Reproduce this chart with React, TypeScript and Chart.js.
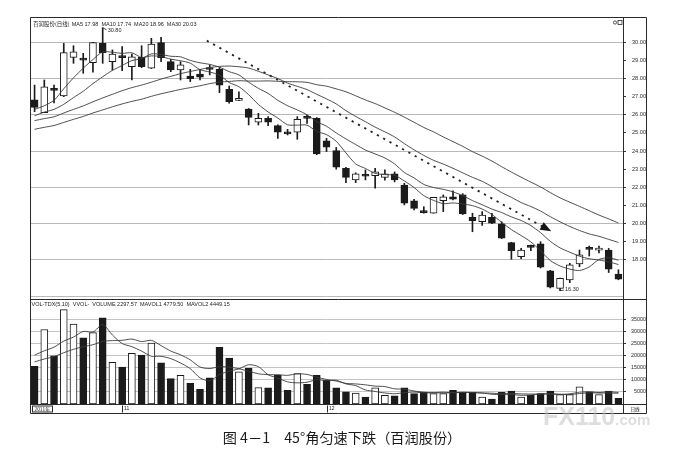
import React, { useEffect, useRef } from "react";
import { Chart, registerables } from "chart.js";

Chart.register(...registerables);

const SANS = "'Liberation Sans', 'DejaVu Sans', Arial, sans-serif";
const CJK = "'Noto Sans CJK SC', 'Noto Sans', sans-serif";

// ---- daily candles ----
const OPEN = [26.82, 26.12, 27.4, 27.04, 29.17, 29.13, 28.87, 29.94, 28.93, 29.2, 28.65, 29.17, 28.57, 29.98, 28.93, 28.47, 28.14, 28.25, 28.55, 28.51, 27.41, 26.8, 26.32, 25.59, 25.81, 25.4, 24.98, 25.04, 25.84, 25.81, 24.57, 24.02, 23.05, 22.41, 22.64, 22.64, 22.55, 22.74, 22.13, 21.26, 20.63, 20.57, 21.26, 21.48, 21.58, 20.35, 20.1, 20.35, 19.98, 18.95, 18.17, 18.7, 18.88, 17.4, 16.43, 16.89, 17.77, 18.6, 18.54, 18.54, 17.22];
const HIGH = [27.64, 27.92, 27.64, 29.94, 29.81, 29.39, 30.0, 30.8, 29.58, 29.76, 29.35, 29.81, 30.22, 30.28, 29.06, 28.93, 28.51, 28.51, 28.75, 28.6, 27.59, 27.27, 26.35, 26.08, 25.9, 25.45, 25.2, 25.9, 25.99, 25.85, 24.7, 24.2, 23.1, 22.8, 22.96, 23.05, 22.96, 22.85, 22.22, 21.34, 20.93, 21.45, 21.58, 21.81, 21.65, 20.57, 20.66, 20.57, 20.1, 18.97, 18.63, 18.82, 19.0, 17.42, 17.0, 17.81, 18.54, 18.76, 18.76, 18.63, 17.45];
const LOW = [26.17, 26.12, 26.65, 27.0, 28.84, 28.29, 28.35, 28.84, 28.47, 28.43, 27.92, 28.6, 28.55, 28.93, 28.38, 27.92, 27.83, 27.92, 28.2, 27.22, 26.64, 26.78, 25.44, 25.44, 25.4, 24.7, 24.89, 24.65, 25.53, 23.8, 23.97, 23.0, 22.26, 22.26, 22.41, 21.95, 22.4, 22.3, 21.03, 20.75, 20.57, 20.57, 20.66, 21.3, 20.5, 19.55, 19.9, 20.0, 19.17, 18.03, 18.07, 18.5, 17.55, 16.45, 16.3, 16.74, 17.62, 18.21, 18.38, 17.3, 16.9];
const CLOSE = [26.41, 27.55, 27.35, 29.43, 29.48, 29.02, 29.98, 29.43, 29.35, 29.15, 29.2, 28.65, 29.9, 29.15, 28.47, 28.75, 27.99, 28.07, 28.5, 27.64, 26.72, 26.82, 25.86, 25.81, 25.59, 25.04, 24.95, 25.75, 25.8, 23.84, 24.21, 23.11, 22.55, 22.74, 22.61, 22.86, 22.74, 22.41, 21.12, 20.84, 20.6, 21.45, 21.48, 21.34, 20.53, 20.16, 20.47, 20.02, 19.19, 18.5, 18.54, 18.69, 17.59, 16.49, 16.98, 17.72, 18.27, 18.58, 18.56, 17.48, 16.94];

// ---- moving-average lines ----
const MA5 = [26.3, 26.5, 26.8, 27.44, 28.04, 28.57, 29.05, 29.47, 29.45, 29.39, 29.42, 29.16, 29.25, 29.21, 29.07, 28.98, 28.85, 28.49, 28.36, 28.19, 27.78, 27.55, 27.11, 26.57, 26.16, 25.82, 25.45, 25.43, 25.43, 25.08, 24.91, 24.54, 23.9, 23.29, 23.04, 22.77, 22.7, 22.67, 22.35, 21.99, 21.54, 21.28, 21.1, 21.14, 21.08, 20.99, 20.8, 20.5, 20.07, 19.67, 19.34, 18.99, 18.5, 17.96, 17.66, 17.49, 17.41, 17.61, 18.02, 18.12, 17.98];
const MA10 = [25.95, 26.15, 26.3, 26.58, 26.95, 27.3, 27.72, 28.1, 28.45, 28.72, 28.99, 29.1, 29.36, 29.33, 29.23, 29.2, 29.0, 28.87, 28.78, 28.63, 28.38, 28.2, 27.8, 27.46, 27.18, 26.8, 26.5, 26.27, 26.0, 25.62, 25.37, 25.0, 24.67, 24.36, 24.06, 23.84, 23.62, 23.29, 22.82, 22.52, 22.16, 21.99, 21.89, 21.75, 21.54, 21.27, 21.04, 20.8, 20.61, 20.37, 20.17, 19.89, 19.5, 19.02, 18.66, 18.42, 18.2, 18.06, 17.99, 17.89, 17.74];
const MA20 = [25.68, 25.79, 25.89, 26.1, 26.3, 26.49, 26.72, 26.93, 27.13, 27.33, 27.5, 27.64, 27.8, 27.97, 28.12, 28.27, 28.39, 28.5, 28.61, 28.67, 28.69, 28.65, 28.58, 28.4, 28.2, 28.0, 27.75, 27.57, 27.39, 27.13, 26.88, 26.6, 26.23, 25.91, 25.62, 25.32, 25.06, 24.78, 24.41, 24.07, 23.76, 23.49, 23.28, 23.05, 22.8, 22.55, 22.33, 22.04, 21.71, 21.45, 21.16, 20.94, 20.69, 20.38, 20.1, 19.84, 19.62, 19.43, 19.3, 19.13, 18.96];
const MA30 = [25.2, 25.31, 25.41, 25.58, 25.75, 25.91, 26.1, 26.27, 26.44, 26.6, 26.74, 26.86, 27.02, 27.16, 27.28, 27.4, 27.5, 27.6, 27.72, 27.8, 27.84, 27.88, 27.86, 27.86, 27.87, 27.85, 27.83, 27.82, 27.79, 27.66, 27.58, 27.43, 27.27, 27.05, 26.82, 26.62, 26.38, 26.14, 25.87, 25.59, 25.3, 25.06, 24.78, 24.52, 24.26, 23.97, 23.72, 23.45, 23.14, 22.84, 22.56, 22.29, 22.02, 21.71, 21.42, 21.18, 20.95, 20.71, 20.47, 20.26, 20.03];

// ---- volume ----
const VOLUME = [15600, 30800, 19900, 39000, 33000, 27300, 29500, 35600, 17200, 15300, 20900, 20200, 25200, 17000, 10500, 11900, 8500, 6100, 10800, 23400, 19000, 13300, 14700, 6800, 6700, 11900, 5700, 12600, 8100, 11900, 9800, 6700, 5000, 4500, 2900, 6700, 3600, 3400, 6700, 4300, 4800, 4300, 4300, 5700, 4800, 4800, 2900, 2000, 4800, 5300, 2900, 3600, 4300, 5300, 3900, 3900, 7100, 5000, 3900, 5300, 2300];
const MAVOL5 = [20200, 22000, 23500, 26000, 27660, 30000, 29740, 32880, 28520, 24980, 23700, 21840, 19760, 19720, 18760, 16960, 14620, 10800, 9560, 12140, 13560, 14520, 16240, 15440, 12100, 10680, 9160, 8740, 9000, 10040, 9620, 9820, 8300, 7600, 5800, 5180, 4560, 4240, 4660, 4940, 4560, 4700, 4880, 4680, 4780, 4780, 4500, 4040, 3860, 3960, 3580, 3720, 4180, 4280, 4000, 4200, 4900, 5040, 4760, 5040, 4780];
const MAVOL10 = [17400, 18600, 19600, 21200, 22600, 23700, 24500, 25900, 26200, 26320, 26850, 25790, 26320, 24120, 21870, 20330, 18230, 15280, 14640, 15450, 15260, 14570, 13520, 12500, 12120, 12120, 11840, 12490, 12220, 11070, 10150, 9490, 8520, 8300, 7920, 7400, 7190, 6270, 6130, 5370, 4870, 4630, 4560, 4670, 4860, 4670, 4600, 4460, 4270, 4370, 4180, 4110, 4110, 4070, 3980, 3890, 4310, 4610, 4520, 4520, 4450];

// ---- hand-drawn 45° trend arrow (data units: candle index, price) ----
const TREND_X = [17.7, 52.2];
const TREND_Y = [30.09, 19.84];

// ---- axes / labels ----
const PRICE_LEVELS = [16, 17, 18, 19, 20, 21, 22, 23, 24, 25, 26, 27, 28, 29, 30];
const VOL_LEVELS = [5000, 10000, 15000, 20000, 25000, 30000, 35000];
const MONTH_TICKS = [9, 30];
const MONTH_LABELS = ["11", "12"];
const YEAR_LABEL = "2011年";
const STOCK_TITLE = "百润股份(日线)";
const MA_NAMES = ["MA5", "MA10", "MA20", "MA30"];
const MA_LAST = ["17.98", "17.74", "18.96", "20.03"];
const VOL_LEGEND = "VOL-TDX(5,10)  VVOL-  VOLUME 2297.57  MAVOL1 4779.50  MAVOL2 4449.15";
const CAPTION = "图 4－1　45°角匀速下跌（百润股份）";

export default function App() {
  const ref = useRef<HTMLCanvasElement | null>(null);

  useEffect(() => {
    const canvas = ref.current;
    if (!canvas) return;
    const ink = "#1b1b1b";
    const lineInk = "#3a3a3a";
    const up = CLOSE.map((c, i) => c >= OPEN[i]);
    const fill = up.map((u) => (u ? "#ffffff" : ink));
    const pts = (arr: number[]) => arr.map((v, i) => ({ x: i, y: v }));
    const transparent = "rgba(0,0,0,0)";

    const overlay = {
      id: "overlay",
      afterDraw(chart: any) {
        const { ctx, chartArea, scales } = chart;
        const xs = scales.x;
        const ys = scales.y;
        const yv = scales.yv;
        const L = Math.round(chartArea.left) + 0.5;
        const R = Math.round(chartArea.right) + 0.5;
        const T = Math.round(chartArea.top) + 0.5;
        const B = Math.round(chartArea.bottom) + 0.5;
        const OR = R + 23;
        const SB = B + 9;
        const D = Math.round(yv.top) + 0.5;
        ctx.save();
        ctx.strokeStyle = "#2a2a2a";
        ctx.lineWidth = 1;
        ctx.beginPath();
        ctx.rect(L, T, OR - L, SB - T);
        ctx.moveTo(L, D);
        ctx.lineTo(OR, D);
        ctx.moveTo(L, B);
        ctx.lineTo(OR, B);
        ctx.moveTo(R, T);
        ctx.lineTo(R, SB);
        ctx.stroke();

        // arrow head at the end of the trend line
        const ax0 = xs.getPixelForValue(TREND_X[0]);
        const ay0 = ys.getPixelForValue(TREND_Y[0]);
        const ax1 = xs.getPixelForValue(TREND_X[1]);
        const ay1 = ys.getPixelForValue(TREND_Y[1]);
        const len = Math.hypot(ax1 - ax0, ay1 - ay0);
        const ux = (ax1 - ax0) / len;
        const uy = (ay1 - ay0) / len;
        ctx.fillStyle = "#151515";
        ctx.beginPath();
        ctx.moveTo(ax1 + ux * 10, ay1 + uy * 10);
        ctx.lineTo(ax1 - ux * 1 - uy * 4.2, ay1 - uy * 1 + ux * 4.2);
        ctx.lineTo(ax1 - ux * 1 + uy * 4.2, ay1 - uy * 1 - ux * 4.2);
        ctx.closePath();
        ctx.fill();

        // top-right small icons
        ctx.lineWidth = 0.8;
        ctx.beginPath();
        ctx.arc(R - 8.5, T + 5, 1.6, 0, Math.PI * 2);
        ctx.stroke();
        ctx.strokeRect(R - 5.5, T + 3, 4, 4);

        // legends
        ctx.fillStyle = "#222";
        ctx.textBaseline = "middle";
        ctx.textAlign = "left";
        ctx.font = `5.5px ${CJK}`;
        ctx.fillText(STOCK_TITLE, L + 2.5, T + 6.5);
        const tx = L + 2.5 + ctx.measureText(STOCK_TITLE).width + 2;
        ctx.font = `5.5px ${SANS}`;
        const maText = MA_NAMES.map((n, i) => `${n} ${MA_LAST[i]}`).join("  ");
        ctx.fillText(maText, tx, T + 6.5);
        ctx.fillText(VOL_LEGEND, L + 1, D + 5);

        // max / min annotations
        const hi = Math.max(...HIGH);
        const hiI = HIGH.indexOf(hi);
        const lo = Math.min(...LOW);
        const loI = LOW.indexOf(lo);
        const hx = xs.getPixelForValue(hiI);
        const hy = ys.getPixelForValue(hi);
        ctx.lineWidth = 0.8;
        ctx.beginPath();
        ctx.moveTo(hx, hy);
        ctx.lineTo(hx + 4, hy + 2);
        ctx.stroke();
        ctx.fillText(hi.toFixed(2), hx + 5, hy + 2.5);
        const lx = xs.getPixelForValue(loI);
        const ly = ys.getPixelForValue(lo);
        ctx.beginPath();
        ctx.moveTo(lx, ly);
        ctx.lineTo(lx + 4, ly - 0.5);
        ctx.stroke();
        ctx.fillText(lo.toFixed(2), lx + 5, ly - 1);

        // date strip
        ctx.lineWidth = 1;
        ctx.font = `4.8px ${CJK}`;
        ctx.strokeRect(L + 2, B + 1.5, 20, 6);
        ctx.fillText(YEAR_LABEL, L + 4, B + 4.6);
        ctx.font = `5px ${SANS}`;
        MONTH_TICKS.forEach((v, i) => {
          const px = Math.round(xs.getPixelForValue(v)) + 0.5;
          ctx.beginPath();
          ctx.moveTo(px, B + 1);
          ctx.lineTo(px, SB - 1);
          ctx.stroke();
          ctx.fillText(MONTH_LABELS[i], px + 1.5, B + 4.6);
        });
        ctx.font = `4.6px ${CJK}`;
        ctx.textAlign = "center";
        ctx.fillText("日线", R + 11.5, B + 4.6);
        ctx.restore();
      },
    };

    const chart = new Chart(canvas, {
      type: "bar",
      data: {
        datasets: [
          {
            type: "bar",
            label: "wick",
            yAxisID: "y",
            data: LOW.map((l, i) => ({ x: i, y: [l, HIGH[i]] })),
            backgroundColor: ink,
            borderWidth: 0,
            barThickness: 1,
            grouped: false,
            order: 3,
          },
          {
            type: "bar",
            label: "body",
            yAxisID: "y",
            data: OPEN.map((o, i) => ({ x: i, y: [o, CLOSE[i]] })),
            backgroundColor: fill,
            borderColor: ink,
            borderWidth: 1,
            borderSkipped: false,
            barThickness: 7,
            minBarLength: 2,
            grouped: false,
            order: 2,
          },
          ...[MA5, MA10, MA20, MA30].map((arr, k) => ({
            type: "line",
            label: MA_NAMES[k],
            yAxisID: "y",
            data: pts(arr),
            borderColor: lineInk,
            borderWidth: 0.9,
            pointRadius: 0,
            tension: 0.25,
            order: 0,
          })),
          {
            type: "line",
            label: "trend",
            yAxisID: "y",
            data: TREND_X.map((x, i) => ({ x, y: TREND_Y[i] })),
            borderColor: "#222",
            borderWidth: 1.8,
            borderDash: [2.2, 5],
            pointRadius: 0,
            order: 0,
          },
          {
            type: "bar",
            label: "VOLUME",
            yAxisID: "yv",
            data: pts(VOLUME),
            backgroundColor: fill,
            borderColor: ink,
            borderWidth: 1,
            borderSkipped: false,
            barThickness: 7,
            grouped: false,
            order: 2,
          },
          ...[MAVOL5, MAVOL10].map((arr, k) => ({
            type: "line",
            label: k === 0 ? "MAVOL1" : "MAVOL2",
            yAxisID: "yv",
            data: pts(arr),
            borderColor: lineInk,
            borderWidth: 0.9,
            pointRadius: 0,
            tension: 0.25,
            order: 0,
          })),
        ] as any,
      },
      options: {
        responsive: false,
        animation: false,
        events: [],
        layout: { padding: { left: 30, top: 17, right: 36, bottom: 57 } },
        plugins: { legend: { display: false }, tooltip: { enabled: false } },
        scales: {
          x: {
            type: "linear",
            min: -0.47,
            max: 60.47,
            offset: false,
            display: false,
          },
          y: {
            type: "linear",
            position: "right",
            stack: "panels",
            stackWeight: 282,
            min: 15.84,
            max: 31.395,
            afterFit: (s: any) => {
              s.width = 23;
            },
            afterBuildTicks: (s: any) => {
              s.ticks = PRICE_LEVELS.map((v) => ({ value: v }));
            },
            ticks: {
              autoSkip: false,
              font: { family: SANS, size: 5.6 },
              color: "#2a2a2a",
              padding: 3,
              crossAlign: "far",
              callback: (v: any) => (Number(v) >= 18 ? Number(v).toFixed(2) : ""),
            },
            grid: {
              color: (c: any) => (c.tick && c.tick.value % 2 === 0 ? "#b9b9b9" : transparent),
              tickColor: (c: any) => (c.tick && c.tick.value >= 18 ? "#333" : transparent),
              borderDash: [1, 2],
              tickBorderDash: [],
              tickLength: 3,
              lineWidth: 1,
            },
            border: { display: true, color: "#2a2a2a" },
          },
          yv: {
            type: "linear",
            position: "right",
            stack: "panels",
            stackWeight: 105,
            min: 0,
            max: 43400,
            afterFit: (s: any) => {
              s.width = 23;
            },
            afterBuildTicks: (s: any) => {
              s.ticks = VOL_LEVELS.map((v) => ({ value: v }));
            },
            ticks: {
              autoSkip: false,
              font: { family: SANS, size: 5.4 },
              color: "#2a2a2a",
              padding: 3,
              crossAlign: "far",
              callback: (v: any) => String(v),
            },
            grid: {
              color: "#c4c4c4",
              tickColor: "#333",
              borderDash: [1, 2],
              tickBorderDash: [],
              tickLength: 3,
              lineWidth: 1,
            },
            border: { display: true, color: "#2a2a2a" },
          },
        } as any,
      },
      plugins: [overlay],
    } as any);

    return () => chart.destroy();
  }, []);

  return (
    <div
      style={{
        position: "absolute",
        left: 0,
        top: 0,
        width: 682,
        height: 461,
        background: "#fff",
        overflow: "hidden",
      }}
    >
      <canvas
        ref={ref}
        width={682}
        height={461}
        style={{ position: "absolute", left: 0, top: 0, width: 682, height: 461 }}
      />
      <div
        style={{
          position: "absolute",
          left: 543,
          top: 404,
          fontFamily: SANS,
          fontWeight: "bold",
          fontSize: 25,
          lineHeight: 1,
          color: "rgba(190,190,190,0.5)",
          whiteSpace: "nowrap",
        }}
      >
        FX110<span style={{ fontSize: 15 }}>.com</span>
      </div>
      <div
        style={{
          position: "absolute",
          left: 0,
          top: 427,
          width: 684,
          textAlign: "center",
          fontFamily: CJK,
          fontSize: 14.2,
          lineHeight: "20px",
          color: "#1a1a1a",
          whiteSpace: "nowrap",
        }}
      >
        {CAPTION}
      </div>
    </div>
  );
}
